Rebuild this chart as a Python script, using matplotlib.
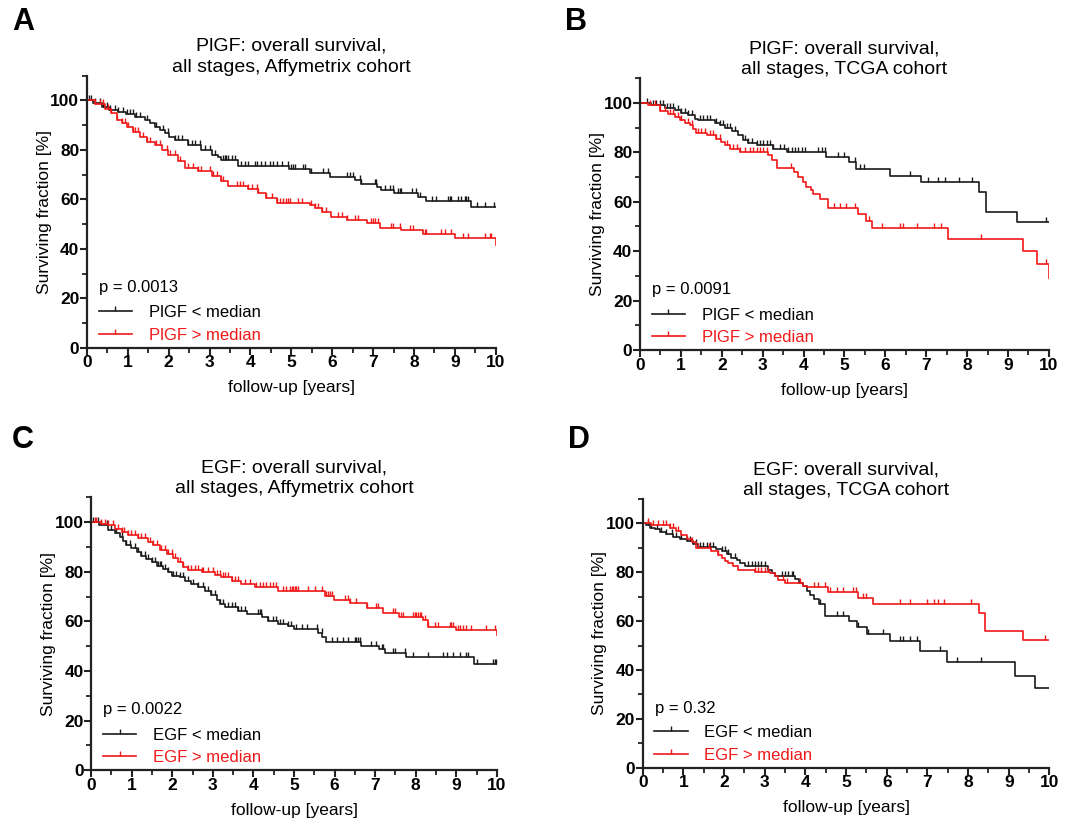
import matplotlib
matplotlib.use('Agg')
import matplotlib.pyplot as plt
from matplotlib.path import Path
from matplotlib.lines import Line2D
import numpy as np

plt.rcParams['font.family'] = ['Liberation Sans', 'DejaVu Sans']

# ---- data (time in years, survival in %) ----
# Panel A: PlGF, Affymetrix cohort
a_low_t = [0, 0.15, 0.36, 0.55, 0.77, 0.95, 1.17, 1.42, 1.55, 1.66, 1.78, 1.9, 2.02, 2.15, 2.48, 2.8,
           3.05, 3.2, 3.29, 3.7, 4.95, 5.45, 5.95, 6.55, 6.7, 7.1, 7.2, 7.5, 8.1, 8.3, 9.4, 10]
a_low_s = [100, 98.8, 97.3, 96.3, 95.3, 94.3, 93.3, 92, 90.7, 89.3, 88, 86.7, 85.3, 84, 82, 80,
           78, 77, 75.7, 73.3, 72.3, 70.7, 69.1, 68, 66.1, 65, 63.7, 62.4, 60.8, 59.3, 57, 57]
a_low_c = [0.05, 0.11, 0.2, 0.32, 0.4, 0.48, 0.56, 0.68, 0.77, 0.89, 0.97, 1.05, 1.13, 1.21, 1.3, 1.46,
           1.7, 1.87, 1.99, 2.15, 2.23, 2.32, 2.48, 2.56, 2.64, 2.76, 2.89, 3.01, 3.13, 3.33, 3.37, 3.41,
           3.46, 3.54, 3.62, 3.78, 3.86, 3.94, 4.11, 4.15, 4.27, 4.35, 4.47, 4.56, 4.64, 4.76, 4.92, 5.0,
           5.04, 5.08, 5.29, 5.33, 5.49, 5.78, 5.9, 6.35, 6.43, 6.51, 6.67, 6.71, 7.04, 7.08, 7.28, 7.41,
           7.49, 7.61, 7.65, 7.69, 7.94, 8.06, 8.14, 8.43, 8.55, 8.83, 8.87, 8.91, 9.08, 9.16, 9.24, 9.28,
           9.32, 9.53, 9.73, 9.97]
a_high_t = [0, 0.2, 0.44, 0.6, 0.73, 0.85, 0.97, 1.13, 1.3, 1.46, 1.66, 1.83, 1.99, 2.23, 2.4, 2.72,
            3.05, 3.29, 3.46, 3.94, 4.19, 4.39, 4.64, 5.45, 5.57, 5.74, 5.98, 6.35, 6.84, 7.16, 7.69,
            8.22, 9.0, 10]
a_high_s = [100, 98.7, 96.7, 94.7, 92, 90.7, 89.3, 87.3, 85.3, 83.3, 82, 80, 78, 75.3, 72.7, 71.3,
            69.3, 67.3, 65.3, 64, 62.7, 60.7, 58.5, 57.7, 56.3, 55, 52.9, 51.6, 50.3, 48.3, 47.6,
            45.8, 44.2, 41.5]
a_high_c = [0.2, 0.32, 0.4, 0.52, 0.6, 0.73, 0.85, 0.93, 1.01, 1.13, 1.17, 1.26, 1.38, 1.46, 1.54, 1.7,
            1.79, 1.95, 2.03, 2.15, 2.27, 2.48, 2.6, 2.72, 2.8, 3.01, 3.09, 3.17, 3.29, 3.33, 3.66, 3.74,
            3.82, 3.94, 4.03, 4.15, 4.19, 4.39, 4.52, 4.64, 4.72, 4.8, 4.88, 4.92, 4.96, 5.17, 5.25,
            5.49, 5.57, 5.65, 5.74, 5.86, 6.14, 6.23, 6.35, 6.55, 6.63, 6.96, 7.0, 7.04, 7.12, 7.45,
            7.49, 7.65, 7.9, 7.98, 8.26, 8.3, 8.67, 8.75, 8.91, 9.2, 9.32, 9.73, 9.85, 9.89]

# Panel B: PlGF, TCGA cohort
b_low_t = [0, 0.28, 0.6, 0.85, 1.01, 1.18, 1.34, 1.42, 1.83, 1.95, 2.08, 2.24, 2.4, 2.52, 2.65, 2.85,
           3.26, 3.59, 4.55, 5.12, 5.28, 6.12, 6.87, 8.28, 8.46, 9.22, 10]
b_low_s = [100, 99, 98.1, 97, 96, 95, 93.6, 93, 92, 91, 90, 88.6, 86.9, 84.9, 83.8, 82.8,
           81.5, 80.1, 78, 75.9, 73.3, 70.6, 67.8, 63.8, 55.8, 51.8, 51.8]
b_low_c = [0.16, 0.32, 0.4, 0.48, 0.56, 0.65, 0.73, 0.81, 0.93, 1.01, 1.09, 1.18, 1.26, 1.46, 1.54, 1.63,
           1.71, 1.87, 1.95, 2.03, 2.12, 2.2, 2.32, 2.57, 2.65, 2.73, 2.85, 2.93, 3.01, 3.1, 3.18, 3.26,
           3.42, 3.51, 3.63, 3.71, 3.79, 3.87, 3.95, 4.04, 4.36, 4.44, 4.53, 4.85, 5.0, 5.25, 5.39, 5.47,
           6.6, 7.05, 7.3, 7.46, 7.8, 8.13, 9.93]
b_high_t = [0, 0.2, 0.48, 0.69, 0.85, 0.97, 1.09, 1.22, 1.3, 1.38, 1.63, 1.87, 1.99, 2.07, 2.2, 2.44,
            3.12, 3.23, 3.36, 3.77, 3.87, 3.98, 4.07, 4.18, 4.24, 4.4, 4.6, 5.33, 5.53, 5.68, 7.53,
            9.36, 9.7, 10]
b_high_s = [100, 99, 96.8, 95.4, 94.3, 93.2, 92, 91, 89.6, 87.6, 86.9, 85.5, 84.2, 82.8, 81.5, 80.1,
            78.8, 76.8, 73.8, 72, 70, 68, 65.9, 64.6, 63.2, 61.2, 57.4, 55, 52.4, 49.5, 45,
            39.9, 35, 29]
b_high_c = [0.24, 0.36, 0.48, 0.6, 0.73, 0.81, 0.93, 1.01, 1.18, 1.26, 1.42, 1.5, 1.59, 1.71, 1.79, 1.87,
            1.95, 2.12, 2.28, 2.36, 2.44, 2.57, 2.69, 2.77, 2.85, 2.93, 3.01, 3.1, 3.7, 4.75, 4.9,
            5.05, 5.25, 5.6, 5.93, 6.35, 6.42, 6.78, 7.18, 7.35, 8.35, 9.92]

# Panel C: EGF, Affymetrix cohort
c_low_t = [0, 0.2, 0.42, 0.58, 0.71, 0.79, 0.87, 0.99, 1.12, 1.24, 1.36, 1.49, 1.61, 1.77, 1.9, 1.98,
           2.18, 2.31, 2.47, 2.64, 2.8, 2.96, 3.09, 3.17, 3.29, 3.62, 3.83, 4.2, 4.36, 4.61, 4.85,
           5.01, 5.6, 5.7, 5.8, 6.65, 7.1, 7.25, 7.75, 9.45, 10]
c_low_s = [100, 98.7, 97, 95.7, 93.9, 92.2, 90.8, 89.5, 88.1, 86.5, 85.2, 83.8, 82.5, 81.1, 79.8, 78.4,
           77.8, 76.4, 75.1, 73.7, 72.4, 70.6, 68.7, 67, 65.6, 64.3, 62.9, 61.6, 60.2, 58.9, 58,
           56.9, 55.2, 53.8, 51.7, 50, 49, 47.4, 45.6, 42.8, 42.8]
c_low_c = [0.05, 0.17, 0.25, 0.38, 0.5, 0.62, 0.75, 0.87, 0.95, 1.08, 1.16, 1.24, 1.32, 1.4, 1.49, 1.57,
           1.65, 1.69, 1.72, 1.81, 1.9, 2.02, 2.1, 2.18, 2.27, 2.39, 2.51, 2.64, 2.76, 2.88, 2.96, 3.05,
           3.17, 3.25, 3.37, 3.46, 3.54, 3.62, 3.7, 3.79, 4.11, 4.15, 4.19, 4.36, 4.48, 4.56, 4.65,
           4.73, 4.85, 4.93, 5.06, 5.19, 5.31, 5.56, 5.68, 5.93, 6.05, 6.21, 6.34, 6.5, 6.54, 6.58,
           6.62, 6.91, 7.03, 7.16, 7.2, 7.45, 7.49, 7.73, 7.94, 8.31, 8.68, 8.76, 8.92, 9.09, 9.25,
           9.29, 9.5, 9.9, 9.95, 9.98]
c_high_t = [0, 0.25, 0.42, 0.58, 0.75, 0.91, 1.16, 1.4, 1.53, 1.69, 1.86, 2.02, 2.14, 2.27, 2.39, 2.72,
            3.05, 3.21, 3.46, 3.7, 4.03, 4.61, 5.76, 5.99, 6.38, 6.79, 7.2, 7.6, 8.18, 8.3, 9.0, 10]
c_high_s = [100, 99.3, 98.7, 97.3, 96, 94.9, 93.5, 91.9, 90.6, 88.9, 87.2, 85.4, 83.8, 81.8, 80.5, 79.8,
            78.7, 77.8, 76.4, 75.1, 73.7, 72.4, 70.2, 68.5, 67.2, 65.5, 63.2, 61.8, 60.5, 57.8, 56.5, 54.6]
c_high_c = [0.09, 0.13, 0.25, 0.34, 0.42, 0.54, 0.67, 0.75, 0.82, 0.91, 0.99, 1.08, 1.16, 1.24, 1.32,
            1.45, 1.53, 1.61, 1.73, 1.81, 1.9, 1.98, 2.06, 2.18, 2.27, 2.39, 2.47, 2.55, 2.64, 2.72,
            2.76, 2.88, 3.0, 3.09, 3.17, 3.25, 3.29, 3.37, 3.46, 3.54, 3.62, 3.79, 3.91, 4.07, 4.16,
            4.24, 4.32, 4.4, 4.48, 4.56, 4.73, 4.81, 4.89, 4.94, 4.98, 5.02, 5.06, 5.1, 5.35, 5.52,
            5.68, 5.8, 5.84, 5.89, 5.93, 6.25, 6.34, 6.38, 6.54, 6.79, 7.03, 7.08, 7.45, 7.49, 7.65,
            7.69, 7.94, 7.98, 8.02, 8.06, 8.1, 8.14, 8.23, 8.31, 8.47, 8.55, 8.84, 8.88, 8.92, 9.05,
            9.09, 9.17, 9.25, 9.37, 9.74, 9.95]

# Panel D: EGF, TCGA cohort
d_low_t = [0, 0.09, 0.17, 0.3, 0.42, 0.58, 0.75, 0.91, 1.08, 1.24, 1.36, 1.81, 1.94, 2.06, 2.18, 2.31,
           2.39, 2.51, 3.09, 3.17, 3.25, 3.74, 3.85, 3.95, 4.03, 4.11, 4.2, 4.34, 4.48, 5.06, 5.26,
           5.51, 6.08, 6.82, 7.48, 9.16, 9.65, 10]
d_low_s = [100, 99.2, 98.2, 97.6, 96.5, 95.5, 94.6, 93.8, 92.8, 91.5, 90.5, 89.7, 88.7, 87.4, 86, 85.1,
           83.7, 82.4, 81, 79.9, 78.6, 77.2, 75.6, 74.2, 72.5, 70.7, 69.1, 67, 62.3, 60, 57.4,
           54.8, 51.7, 47.8, 43.4, 37.7, 32.5, 32.5]
d_low_c = [0.13, 0.21, 0.34, 0.46, 0.58, 0.71, 0.83, 0.95, 1.08, 1.16, 1.32, 1.4, 1.49, 1.57, 1.65, 1.73,
           1.94, 2.02, 2.1, 2.27, 2.59, 2.68, 2.76, 2.84, 2.92, 3.0, 3.42, 3.5, 3.58, 3.66, 3.7,
           4.36, 4.77, 4.93, 5.3, 5.55, 5.92, 6.33, 6.41, 6.57, 6.74, 7.31, 7.74, 8.31]
d_high_t = [0, 0.2, 0.66, 0.83, 0.95, 1.08, 1.2, 1.32, 1.69, 1.86, 1.94, 2.02, 2.1, 2.22, 2.35, 2.76,
            3.13, 3.25, 3.33, 3.5, 3.95, 4.03, 4.56, 5.3, 5.67, 8.26, 8.42, 9.34, 10]
d_high_s = [100, 99.4, 98.2, 96.9, 95.1, 93.8, 92.4, 90.1, 88.7, 87, 86, 84.7, 83.7, 82.6, 81, 80.2,
            79.6, 78.6, 76.9, 75.6, 74.2, 73.8, 72.1, 69.6, 67.1, 63.2, 56, 52.2, 52.2]
d_high_c = [0.13, 0.25, 0.38, 0.5, 0.58, 0.67, 0.75, 0.87, 1.2, 1.36, 1.64, 1.86, 2.76, 2.84, 2.92, 3.0,
            3.08, 3.46, 3.54, 3.87, 4.2, 4.32, 4.48, 4.6, 4.77, 4.92, 5.16, 5.24, 5.42, 5.49, 6.33,
            6.57, 7.0, 7.17, 7.25, 7.41, 8.07, 9.9]

panels = [
    ('A', 'PlGF: overall survival,\nall stages, Affymetrix cohort', 'PlGF', 'p = 0.0013',
     (a_low_t, a_low_s, a_low_c), (a_high_t, a_high_s, a_high_c), [0.081, 0.577, 0.381, 0.331]),
    ('B', 'PlGF: overall survival,\nall stages, TCGA cohort', 'PlGF', 'p = 0.0091',
     (b_low_t, b_low_s, b_low_c), (b_high_t, b_high_s, b_high_c), [0.5965, 0.574, 0.381, 0.331]),
    ('C', 'EGF: overall survival,\nall stages, Affymetrix cohort', 'EGF', 'p = 0.0022',
     (c_low_t, c_low_s, c_low_c), (c_high_t, c_high_s, c_high_c), [0.085, 0.063, 0.378, 0.332]),
    ('D', 'EGF: overall survival,\nall stages, TCGA cohort', 'EGF', 'p = 0.32',
     (d_low_t, d_low_s, d_low_c), (d_high_t, d_high_s, d_high_c), [0.599, 0.066, 0.379, 0.327]),
]
letter_pos = [(0.011, 0.973), (0.527, 0.973), (0.011, 0.465), (0.529, 0.465)]

BLACK = '#1a1a1a'
RED = '#f01818'
tick_mark = Path([[0, 0], [0, 1]])


def km_curve(ax, t, s, cens, color):
    t = np.array(t)
    s = np.array(s)
    ax.step(t, s, where='post', color=color, lw=1.2)
    idx = np.searchsorted(t, cens, side='right') - 1
    ax.plot(cens, s[idx], ls='none', marker=tick_mark, ms=7, mew=1.0, color=color)


fig = plt.figure(figsize=(10.73, 8.22), dpi=100)

for (letter, title, gene, ptxt, low, high, pos), lp in zip(panels, letter_pos):
    ax = fig.add_axes(pos)
    km_curve(ax, *low, BLACK)
    km_curve(ax, *high, RED)

    ax.set_xlim(0, 10)
    ax.set_ylim(0, 110)
    ax.set_xticks(range(0, 11))
    ax.set_xticks(np.arange(0.5, 10, 1), minor=True)
    ax.set_yticks([0, 20, 40, 60, 80, 100])
    ax.set_yticks([10, 30, 50, 70, 90, 110], minor=True)
    for side in ['top', 'right']:
        ax.spines[side].set_visible(False)
    for side in ['left', 'bottom']:
        ax.spines[side].set_linewidth(1.6)
        ax.spines[side].set_color('#222222')
    ax.tick_params(which='major', length=5, width=1.5, labelsize=12.5, color='#222222', pad=0.5)
    ax.tick_params(which='minor', length=3.5, width=1.3, color='#222222')
    for lab in ax.get_xticklabels() + ax.get_yticklabels():
        lab.set_fontweight('bold')
    ax.set_xlabel('follow-up [years]', fontsize=12.5, labelpad=7)
    ax.set_ylabel('Surviving fraction [%]', fontsize=12.5, labelpad=-1)
    ax.set_title(title, fontsize=14, pad=1, linespacing=1.3)

    ax.text(0.03, 0.222, ptxt, transform=ax.transAxes, fontsize=12, va='center', ha='left')
    handles = [Line2D([], [], color=BLACK, lw=1.2, marker=tick_mark, ms=7, mew=1.0),
               Line2D([], [], color=RED, lw=1.2, marker=tick_mark, ms=7, mew=1.0)]
    leg = ax.legend(handles, [gene + ' < median', gene + ' > median'], loc='lower left',
                    bbox_to_anchor=(0.0, -0.024), frameon=False, fontsize=12, handlelength=2.0,
                    handletextpad=1.0, labelspacing=0.45, numpoints=1, borderaxespad=0.3)
    leg.get_texts()[1].set_color(RED)

    fig.text(lp[0], lp[1], letter, fontsize=22, fontweight='bold', va='center', ha='left')

fig.savefig('out.png', dpi=100)
